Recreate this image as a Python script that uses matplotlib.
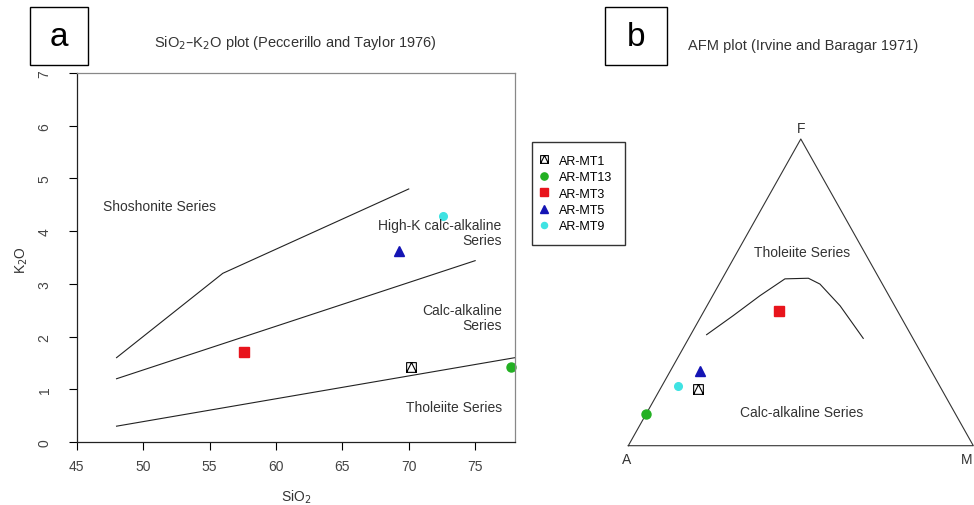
import matplotlib
matplotlib.use("Agg")
import matplotlib.pyplot as plt
from matplotlib.path import Path
from matplotlib.patches import Rectangle
import numpy as np

plt.rcParams["font.family"] = ["Liberation Sans", "DejaVu Sans"]

# samples
samples = ["AR-MT1", "AR-MT13", "AR-MT3", "AR-MT5", "AR-MT9"]
sio2 = [70.2, 77.7, 57.6, 69.3, 72.6]
k2o = [1.42, 1.42, 1.70, 3.63, 4.29]
# AFM proportions (A, F, M)
afm_a = [0.706, 0.897, 0.344, 0.672, 0.760]
afm_f = [0.185, 0.103, 0.438, 0.243, 0.194]
afm_m = [0.109, 0.000, 0.218, 0.085, 0.046]

# Peccerillo & Taylor boundaries
sho_x = [48, 56, 63, 70]
sho_y = [1.6, 3.2, 4.0, 4.8]
hik_x = [48, 75]
hik_y = [1.2, 3.44]
tho_x = [48, 78]
tho_y = [0.3, 1.6]

# Irvine & Baragar boundary (A, F, M)
ib_a = [0.592, 0.484, 0.374, 0.274, 0.205, 0.181, 0.158, 0.144]
ib_f = [0.362, 0.424, 0.489, 0.544, 0.546, 0.527, 0.456, 0.350]
ib_m = [0.046, 0.092, 0.137, 0.182, 0.249, 0.292, 0.386, 0.506]

xticks = [45, 50, 55, 60, 65, 70, 75]
yticks = [0, 1, 2, 3, 4, 5, 6, 7]

# square-with-triangle marker (like R pch 14)
sqtri = Path([(-1, -1), (1, -1), (1, 1), (-1, 1), (-1, -1), (-1, -1), (0, 1), (1, -1)],
             [Path.MOVETO, Path.LINETO, Path.LINETO, Path.LINETO, Path.CLOSEPOLY,
              Path.MOVETO, Path.LINETO, Path.LINETO])
styles = [
    dict(marker=sqtri, color="black", mfc="none", ms=7, mew=0.8),
    dict(marker="o", color="#22b022", ms=6.5),
    dict(marker="s", color="#e8141c", ms=7),
    dict(marker="^", color="#1414b4", ms=7.5),
    dict(marker="o", color="#3fe3e3", ms=5.5),
]

W, H = 974, 506
fig = plt.figure(figsize=(W / 100, H / 100), dpi=100)


def px(x0, y0, x1, y1):
    return [x0 / W, 1 - y1 / H, (x1 - x0) / W, (y1 - y0) / H]


# ---- panel a ----
ax = fig.add_axes(px(76.7, 74, 515, 443))
ax.set_xlim(45, 78)
ax.set_ylim(0, 7)
for xs, ys in [(sho_x, sho_y), (hik_x, hik_y), (tho_x, tho_y)]:
    ax.plot(xs, ys, color="#222222", lw=0.8)
handles = []
for i, name in enumerate(samples):
    h, = ax.plot(sio2[i], k2o[i], ls="none", label=name, clip_on=False, **styles[i])
    handles.append(h)

ax.text(47.0, 4.48, "Shoshonite Series", fontsize=10, color="#333333", va="center")
ax.text(77.0, 3.97, "High-K calc-alkaline\nSeries", fontsize=10, color="#333333",
        ha="right", va="center", multialignment="right", linespacing=1.1)
ax.text(77.0, 2.37, "Calc-alkaline\nSeries", fontsize=10, color="#333333",
        ha="right", va="center", multialignment="right", linespacing=1.1)
ax.text(77.0, 0.66, "Tholeiite Series", fontsize=10, color="#333333", ha="right", va="center")

ax.set_xticks(xticks)
ax.set_yticks(yticks)
ax.tick_params(axis="x", length=6, width=0.8, pad=6, labelsize=10, labelcolor="#444444")
ax.tick_params(axis="y", length=6, width=0.8, pad=12, labelsize=10, labelcolor="#444444",
               labelrotation=90)
for lab in ax.get_yticklabels():
    lab.set_va("center")
for s in ["left", "bottom"]:
    ax.spines[s].set_color("#222222")
    ax.spines[s].set_linewidth(0.9)
for s in ["top", "right"]:
    ax.spines[s].set_color("#888888")
    ax.spines[s].set_linewidth(0.9)

fig.text(296 / W, 1 - 497 / H, "SiO$_2$", fontsize=10, color="#333333", ha="center", va="center")
fig.text(22 / W, 1 - 260 / H, "K$_2$O", fontsize=10, color="#333333", ha="center", va="center",
         rotation=90)
fig.text(295 / W, 1 - 43 / H, "SiO$_2$\u2013K$_2$O plot (Peccerillo and Taylor 1976)",
         fontsize=10.5, color="#333333", ha="center", va="center")

fig.legend(handles, samples, loc="upper left", bbox_to_anchor=(531.7 / W, 1 - 143.3 / H),
           fontsize=9, frameon=True, fancybox=False, edgecolor="#333333", framealpha=1,
           handlelength=0, handletextpad=1.2, labelspacing=0.35, borderpad=1.0,
           borderaxespad=0, markerscale=0.8)

# ---- panel b (AFM ternary) ----
bx = fig.add_axes(px(628.3, 140, 973.3, 446.7))
bx.set_xlim(0, 1)
bx.set_ylim(0, 1)
bx.axis("off")
bx.plot([0, 1, 0.5, 0], [0, 0, 1, 0], color="#333333", lw=0.8, clip_on=False)
ib_x = np.array(ib_m) + np.array(ib_f) / 2
bx.plot(ib_x, ib_f, color="#222222", lw=0.8)
for i in range(len(samples)):
    bx.plot(afm_m[i] + afm_f[i] / 2, afm_f[i], ls="none", clip_on=False, **styles[i])
bx.text(0.5, 1.035, "F", fontsize=10, color="#333333", ha="center", va="center")
bx.text(-0.005, -0.043, "A", fontsize=10, color="#333333", ha="center", va="center")
bx.text(0.998, -0.043, "M", fontsize=10, color="#333333", ha="right", va="center")
bx.text(0.503, 0.631, "Tholeiite Series", fontsize=10, color="#333333", ha="center", va="center")
bx.text(0.503, 0.111, "Calc-alkaline Series", fontsize=10, color="#333333", ha="center",
        va="center")
fig.text(803 / W, 1 - 46 / H, "AFM plot (Irvine and Baragar 1971)", fontsize=10.5,
         color="#333333", ha="center", va="center")

# panel letters
for x0, x1, letter in [(30, 88, "a"), (605, 666.7, "b")]:
    fig.patches.append(Rectangle((x0 / W, 1 - 66 / H), (x1 - x0) / W, 58 / H,
                                 transform=fig.transFigure, fill=False, edgecolor="black",
                                 lw=1.0))
    fig.text((x0 + x1) / 2 / W, 1 - 37 / H, letter, fontsize=24, ha="center", va="center")

fig.savefig("out.png", dpi=100)
